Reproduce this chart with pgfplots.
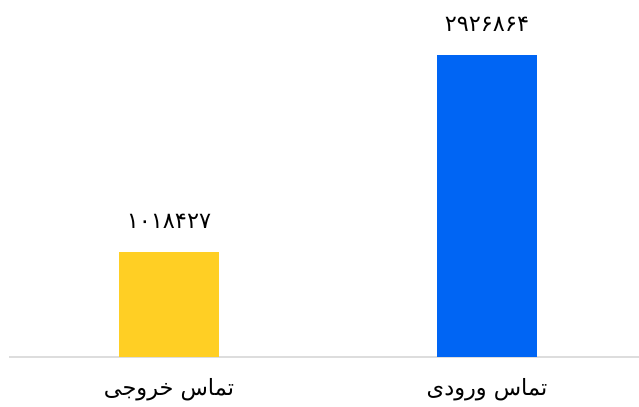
\documentclass[border=0pt]{standalone}
\usepackage{pgfplots}
\pgfplotsset{compat=1.18}
\usepackage{fontspec}
\TeXXeTstate=1
\newfontfamily\arabicfont[Script=Arabic]{DejaVu Sans}
\definecolor{baryellow}{RGB}{255,207,36}
\definecolor{barblue}{RGB}{0,101,244}
\definecolor{axisgray}{RGB}{221,221,221}
\begin{document}
\begin{tikzpicture}
\path[use as bounding box] (-9bp,-50bp) rectangle (630bp,357bp);
\begin{axis}[
  scale only axis,
  width=630bp, height=357bp,
  xmin=-0.503, xmax=1.478,
  ymin=0, ymax=3459800,
  axis x line=bottom,
  axis y line=none,
  x axis line style={draw=axisgray, line width=1.5bp, -},
  xtick={0,1},
  xticklabels={{\arabicfont\beginR تماس خروجی\endR},{\arabicfont\beginR تماس ورودی\endR}},
  xticklabel style={font=\fontsize{22.5}{26}\selectfont, anchor=center, yshift=-33bp},
  major tick length=0pt,
  ybar, bar shift=0pt, bar width=100bp,
  point meta=explicit symbolic,
  nodes near coords,
  every node near coord/.append style={font=\arabicfont\fontsize{22.5}{26}\selectfont, anchor=center, yshift=31bp, text=black},
]
\addplot[draw=none, fill=baryellow] coordinates {(0,1018427) [۱۰۱۸۴۲۷]};
\addplot[draw=none, fill=barblue] coordinates {(1,2926864) [۲۹۲۶۸۶۴]};
\end{axis}
\end{tikzpicture}
\end{document}
